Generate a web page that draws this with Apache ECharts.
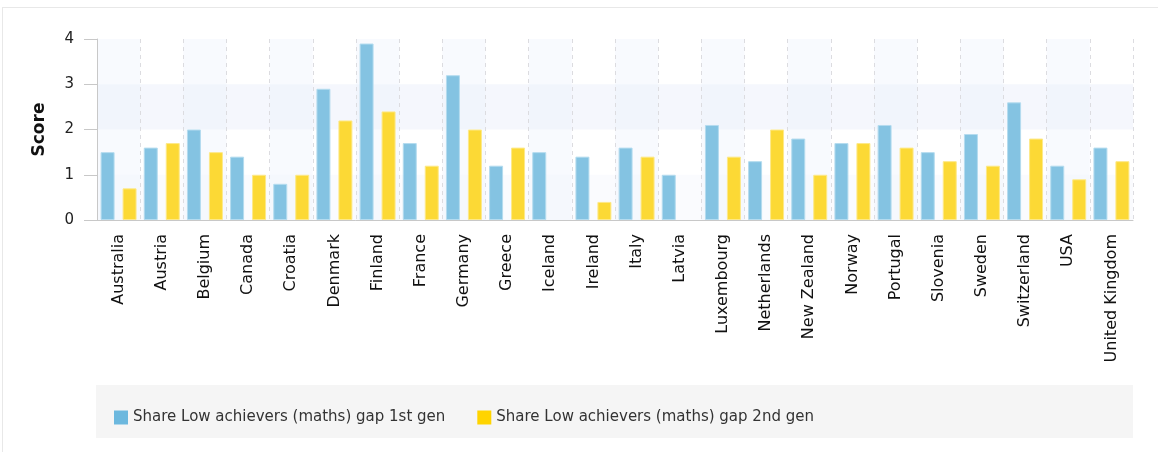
<!DOCTYPE html>
<html><head><meta charset="utf-8">
<script src="https://cdn.jsdelivr.net/npm/echarts@6/dist/echarts.min.js"></script>
<style>
html,body{margin:0;padding:0;background:#fff;}
#frame{position:absolute;left:2px;top:7px;width:1160px;height:450px;border-left:1px solid #e8e8e8;border-top:1px solid #e8e8e8;}
#chart{position:absolute;left:0;top:0;width:1158px;height:452px;}
</style></head>
<body>
<div id="frame"></div>
<div id="chart"></div>
<script>
const categories = ["Australia","Austria","Belgium","Canada","Croatia","Denmark","Finland","France","Germany","Greece","Iceland","Ireland","Italy","Latvia","Luxembourg","Netherlands","New Zealand","Norway","Portugal","Slovenia","Sweden","Switzerland","USA","United Kingdom"];
const gen1 = [1.5,1.6,2.0,1.4,0.8,2.9,3.9,1.7,3.2,1.2,1.5,1.4,1.6,1.0,2.1,1.3,1.8,1.7,2.1,1.5,1.9,2.6,1.2,1.6];
const gen2 = [0.7,1.7,1.5,1.0,1.0,2.2,2.4,1.2,2.0,1.6,null,0.4,1.4,null,1.4,2.0,1.0,1.7,1.6,1.3,1.2,1.8,0.9,1.3];
const seriesNames = ["Share Low achievers (maths) gap 1st gen","Share Low achievers (maths) gap 2nd gen"];
const yTicks = [0,1,2,3,4];

const chart = echarts.init(document.getElementById('chart'));
const font = 'DejaVu Sans, Verdana, sans-serif';
chart.setOption({
  animation:false,
  textStyle:{fontFamily:font},
  grid:{left:97,right:25,top:39,bottom:232,containLabel:false},
  graphic:[{type:'rect',shape:{x:96,y:385,width:1037,height:53},style:{fill:'#f5f5f5'},z:-1}],
  legend:{
    left:109, top:405, itemWidth:14, itemHeight:14, itemGap:32,
    icon:'rect',
    textStyle:{fontFamily:font,fontSize:15,color:'#333'},
    data:[{name:seriesNames[0],itemStyle:{color:'#6cb8de',borderWidth:0}},{name:seriesNames[1],itemStyle:{color:'#ffd400',borderWidth:0}}]
  },
  xAxis:{
    type:'category', data:categories, boundaryGap:true,
    axisLine:{lineStyle:{color:'#c8c8c8'}},
    axisTick:{alignWithLabel:true,length:10,lineStyle:{color:'#c8c8c8'}},
    axisLabel:{rotate:90,interval:0,margin:14,fontSize:16,color:'#111',fontFamily:font},
    splitLine:{show:true,interval:0,lineStyle:{color:'#dcdce0',type:[4,4]}},
    splitArea:{show:true,interval:0,areaStyle:{color:['rgba(238,242,252,0.4)','rgba(255,255,255,0)']}}
  },
  yAxis:{
    type:'value', min:yTicks[0], max:yTicks[yTicks.length-1], interval:1,
    name:'Score', nameLocation:'middle', nameGap:49, nameRotate:90,
    nameTextStyle:{fontSize:17,fontWeight:'bold',color:'#111',fontFamily:font},
    axisLine:{show:true,lineStyle:{color:'#c8c8c8'}},
    axisTick:{show:true,length:13,lineStyle:{color:'#c8c8c8'}},
    axisLabel:{fontSize:15,color:'#222',margin:23,fontFamily:font},
    splitLine:{show:false},
    splitArea:{show:true,areaStyle:{color:['rgba(240,243,252,0.35)','rgba(255,255,255,0)','rgba(236,240,252,0.5)','rgba(255,255,255,0)']}}
  },
  series:[
    {name:seriesNames[0],type:'bar',data:gen1,barWidth:14,barGap:'57%',
     itemStyle:{color:'#84c3e2',borderColor:'#b5dcef',borderWidth:1}},
    {name:seriesNames[1],type:'bar',data:gen2,barWidth:14,
     itemStyle:{color:'#fcd935',borderColor:'#fde98a',borderWidth:1}}
  ]
});
</script>
</body></html>
